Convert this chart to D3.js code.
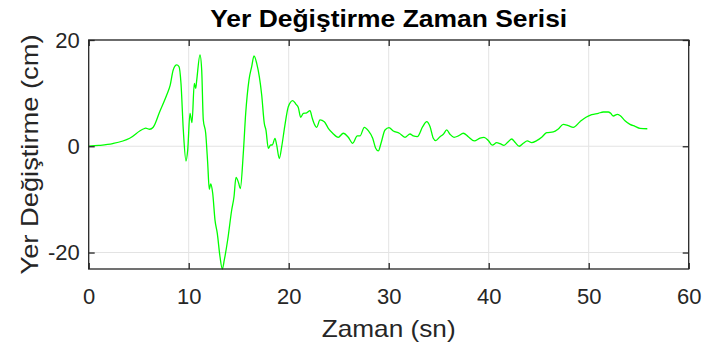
<!DOCTYPE html>
<html>
<head>
<meta charset="utf-8">
<script src="https://cdn.jsdelivr.net/npm/d3@7"></script>
<style>
  html, body { margin: 0; padding: 0; background: #fff; }
  svg { display: block; }
  text { font-family: "Liberation Sans", Arial, sans-serif; }
</style>
</head>
<body>
<svg id="chart" width="704" height="348"></svg>
<script>
// Displacement time history: time (s) and displacement (cm)
const timeSec = [
  0, 1, 2.4, 4.1, 5.45, 5.7, 6.1, 6.45, 7.1, 7.8, 8.15, 8.45, 8.8, 9.03, 9.23, 9.46,
  9.73, 9.9, 10.13, 10.33, 10.56, 10.7, 10.8, 11.13, 11.3, 11.46, 11.7, 11.9, 12.06, 12.2,
  12.4, 12.63, 12.86, 13.13, 13.36, 13.56, 13.9, 14.3, 14.53, 14.73, 15.0, 15.16, 15.46,
  15.7, 16.03, 16.3, 16.53, 16.8, 17.3, 17.56, 17.73, 17.96, 18.2, 18.36, 18.63, 18.8,
  19.06, 19.3, 19.6, 19.96, 20.4, 20.73, 20.96, 21.2, 21.46, 21.8, 22.13, 22.36, 22.56,
  22.8, 23.13, 23.56, 23.96, 24.4, 24.96, 25.46, 25.96, 26.4, 26.86, 27.13, 27.56, 27.96,
  28.4, 28.7, 28.96, 29.23, 29.63, 30.03, 30.46, 31.06, 31.63, 32.13, 32.46, 32.86, 33.4,
  33.8, 34.13, 34.46, 34.7, 35.13, 35.46, 35.8, 36.13, 36.53, 36.96, 37.46, 37.96, 38.56,
  39.13, 39.53, 39.96, 40.36, 40.8, 41.13, 41.53, 41.96, 42.3, 42.63, 43.06, 43.46, 43.86,
  44.3, 44.8, 45.3, 45.8, 46.46, 46.96, 47.46, 47.96, 48.46, 49.13, 49.73, 50.3, 50.96,
  51.46, 51.96, 52.2, 52.46, 52.86, 53.13, 53.63, 54.13, 54.63, 55.13, 55.86
];
const dispCm = [
  0, 0.15, 0.5, 1.5, 3.25, 3.4, 3.2, 3.57, 6.5, 9.65, 11.5, 14.35, 15.3, 15.0, 11.8, 3.1,
  -2.77, -0.7, 6.2, 4.45, 11.85, 10.9, 12.4, 17.2, 14.35, 4.95, 2.45, -3.2, -8.1, -7.1,
  -8.85, -13.9, -16.4, -20.8, -23.1, -21.4, -17.6, -12, -9.5, -5.85, -6.96, -7.97, -1.3,
  6.2, 12.5, 15, 17, 15.6, 9.65, 4.3, 3, -0.38, 0.24, 0.24, 1.5, 0.2,
  -2.3, -0.07, 3.7, 7.45, 8.6, 7.9, 7.3, 5.45, 6.2, 6.3, 6.7, 5.26, 4.2,
  3.57, 4.95, 4.63, 3.38, 2.45, 1.69, 2.45, 1.69, 0.56, 1.94, 1.94, 3.57, 2.94,
  1.5, -0.38, -0.88, 0.56, 3.07, 3.5, 2.88, 2.45, 1.69, 2.31, 1.94, 1.8, 3.7,
  4.63, 3.7, 1.5, 1.06, 1.8, 2.25, 3.07, 2.25, 1.69, 1.94, 2.45, 1.8, 1.0,
  1.55, 1.69, 1.1, 0.2, 0.68, 0.5, 0.18, 0.87, 1.37, 0.75, 0, 0.56, 1.0,
  0.68, 1.06, 1.69, 2.56, 2.69, 3.25, 4.13, 3.87, 3.57, 4.63, 5.45, 5.94, 6.2,
  6.45, 6.45, 6.2, 5.7, 6.0, 5.8, 4.82, 4.13, 3.76, 3.38, 3.3
];
const xTicks = [0, 10, 20, 30, 40, 50, 60];
const yTicks = [-20, 0, 20];

const titleText = "Yer Değiştirme Zaman Serisi";
const xLabelText = "Zaman (sn)";
const yLabelText = "Yer Değiştirme (cm)";

const svg = d3.select("#chart");
const box = { left: 88.7, right: 688.7, top: 40, bottom: 269 };
const innerW = box.right - box.left, innerH = box.bottom - box.top;

const x = d3.scaleLinear().domain([0, 60]).range([box.left, box.right]);
const y = d3.scaleLinear().domain([-23.1, 20]).range([box.bottom, box.top]);

const axisColor = "#262626";
const gridColor = "#e3e3e3";

// grid
const grid = svg.append("g");
grid.selectAll("line.gx").data(xTicks.slice(1, -1)).join("line")
  .attr("x1", d => x(d)).attr("x2", d => x(d))
  .attr("y1", box.top).attr("y2", box.bottom)
  .attr("stroke", gridColor).attr("stroke-width", 1);
grid.selectAll("line.gy").data(yTicks).join("line")
  .attr("x1", box.left).attr("x2", box.right)
  .attr("y1", d => y(d)).attr("y2", d => y(d))
  .attr("stroke", gridColor).attr("stroke-width", 1);

// data line
const pts = timeSec.map((t, i) => [t, dispCm[i]]);
const line = d3.line().x(d => x(d[0])).y(d => y(d[1])).curve(d3.curveMonotoneX);
svg.append("path").datum(pts)
  .attr("d", line)
  .attr("fill", "none")
  .attr("stroke", "#00ff00")
  .attr("stroke-width", 1.3)
  .attr("stroke-linejoin", "round");

// axes (ticks inward, mirrored on the box)
const tickLen = 6;
const fmt = d => String(d);
const xBottom = d3.axisBottom(x).tickValues(xTicks).tickSize(-tickLen).tickPadding(19).tickFormat(fmt);
const xTop = d3.axisTop(x).tickValues(xTicks).tickSize(-tickLen).tickFormat("");
const yLeft = d3.axisLeft(y).tickValues(yTicks).tickSize(-tickLen).tickPadding(9).tickFormat(fmt);
const yRight = d3.axisRight(y).tickValues(yTicks).tickSize(-tickLen).tickFormat("");

function styleAxis(g) {
  g.select(".domain").remove();
  g.selectAll(".tick line").attr("stroke", axisColor).attr("stroke-width", 1.3);
  g.selectAll(".tick text").attr("fill", axisColor)
    .style("font-family", "'Liberation Sans', Arial, sans-serif").style("font-size", "22px");
}
svg.append("g").attr("transform", `translate(0,${box.bottom})`).call(xBottom).call(styleAxis);
svg.append("g").attr("transform", `translate(0,${box.top})`).call(xTop).call(styleAxis);
svg.append("g").attr("transform", `translate(${box.left},0)`).call(yLeft).call(styleAxis);
svg.append("g").attr("transform", `translate(${box.right},0)`).call(yRight).call(styleAxis);

// frame
svg.append("rect")
  .attr("x", box.left).attr("y", box.top)
  .attr("width", innerW).attr("height", innerH)
  .attr("fill", "none").attr("stroke", axisColor).attr("stroke-width", 1.3);

// title and labels
svg.append("text")
  .attr("x", (box.left + box.right) / 2).attr("y", 27)
  .attr("text-anchor", "middle")
  .attr("font-weight", "bold").attr("font-size", 24)
  .attr("fill", "#000")
  .attr("textLength", 357).attr("lengthAdjust", "spacingAndGlyphs")
  .text(titleText);

svg.append("text")
  .attr("x", (box.left + box.right) / 2).attr("y", 337)
  .attr("text-anchor", "middle")
  .attr("font-size", 24).attr("fill", axisColor)
  .attr("textLength", 134).attr("lengthAdjust", "spacingAndGlyphs")
  .text(xLabelText);

svg.append("text")
  .attr("transform", `translate(38,${(box.top + box.bottom) / 2}) rotate(-90)`)
  .attr("text-anchor", "middle")
  .attr("font-size", 24).attr("fill", axisColor)
  .attr("textLength", 240).attr("lengthAdjust", "spacingAndGlyphs")
  .text(yLabelText);
</script>
</body>
</html>
